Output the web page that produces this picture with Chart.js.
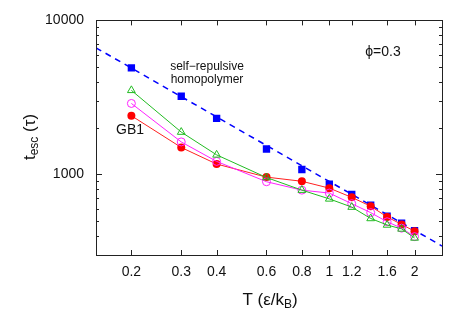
<!DOCTYPE html>
<html>
<head>
<meta charset="utf-8">
<script src="https://cdn.jsdelivr.net/npm/chart.js@4/dist/chart.umd.min.js"></script>
<style>
  body { margin: 0; background: #fff; }
  canvas { display: block; }
</style>
</head>
<body>
<canvas id="chart" width="471" height="330"></canvas>
<script>
// temperatures T (eps/kB)
const temps = [0.2, 0.3, 0.4, 0.6, 0.8, 1.0, 1.2, 1.4, 1.6, 1.8, 2.0];

// escape times t_esc (tau)
const homopolymer = [4920, 3220, 2310, 1463, 1076, 864, 742, 632, 535, 482, 432];
const gb1 = [2405, 1497, 1168, 961, 903, 815, 710, 622, 530, 474, 428];
const magentaSeries = [2890, 1626, 1215, 897, 791, 757, 646, 565, 493, 448, 395];
const greenSeries = [3516, 1884, 1340, 955, 791, 694, 614, 518, 470, 443, 387];

// power-law fit through the homopolymer points
const fitT = [0.15, 2.5];
const fitTesc = [6640, 343];

const xTicks = [0.2, 0.3, 0.4, 0.6, 0.8, 1, 1.2, 1.6, 2];
const xTickLabels = ['0.2', '0.3', '0.4', '0.6', '0.8', '1', '1.2', '1.6', '2'];
const yTicks = [1000, 10000];
const yTickLabels = ['1000', '10000'];
const yMinorTicks = [300, 400, 500, 600, 700, 800, 900, 2000, 3000, 4000, 5000, 6000, 7000, 8000, 9000];

const FONT = "'Liberation Sans', Arial, Helvetica, sans-serif";

function pts(xs, ys) {
  return xs.map((x, i) => ({ x: x, y: ys[i] }));
}

function drawRich(ctx, parts, size, subSize) {
  // parts: [text, isSub]
  let w = 0;
  parts.forEach(p => {
    ctx.font = (p[1] ? subSize : size) + 'px ' + FONT;
    w += ctx.measureText(p[0]).width;
  });
  let x = -w / 2;
  parts.forEach(p => {
    ctx.font = (p[1] ? subSize : size) + 'px ' + FONT;
    ctx.fillText(p[0], x, p[1] ? 5 : 0);
    x += ctx.measureText(p[0]).width;
  });
}

const framePlugin = {
  id: 'frame',
  afterDraw(chart) {
    const ctx = chart.ctx;
    const a = chart.chartArea;
    const xs = chart.scales.x, ys = chart.scales.y;
    ctx.save();
    ctx.strokeStyle = '#222';
    ctx.lineWidth = 1;
    ctx.strokeRect(Math.round(a.left) + 0.5, Math.round(a.top) + 0.5,
      Math.round(a.right - a.left), Math.round(a.bottom - a.top));

    ctx.beginPath();
    xTicks.forEach(v => {
      const px = Math.round(xs.getPixelForValue(v)) + 0.5;
      ctx.moveTo(px, a.bottom); ctx.lineTo(px, a.bottom - 5);
      ctx.moveTo(px, a.top); ctx.lineTo(px, a.top + 5);
    });
    yTicks.forEach(v => {
      const py = Math.round(ys.getPixelForValue(v)) + 0.5;
      ctx.moveTo(a.left, py); ctx.lineTo(a.left + 6, py);
      ctx.moveTo(a.right, py); ctx.lineTo(a.right - 6, py);
    });
    yMinorTicks.forEach(v => {
      const py = Math.round(ys.getPixelForValue(v)) + 0.5;
      ctx.moveTo(a.left, py); ctx.lineTo(a.left + 3, py);
      ctx.moveTo(a.right, py); ctx.lineTo(a.right - 3, py);
    });
    ctx.stroke();

    ctx.fillStyle = '#111';
    ctx.textBaseline = 'middle';

    // x title
    ctx.save();
    ctx.translate(270, 300);
    drawRich(ctx, [['T (ε/k', false], ['B', true], [')', false]], 17, 12);
    ctx.restore();

    // y title
    ctx.save();
    ctx.translate(30, 137);
    ctx.rotate(-Math.PI / 2);
    drawRich(ctx, [['t', false], ['esc', true], [' (τ)', false]], 17, 12);
    ctx.restore();

    // annotations
    ctx.textAlign = 'center';
    ctx.font = '12px ' + FONT;
    ctx.fillText('self\u2212repulsive', 207, 67);
    ctx.fillText('homopolymer', 207, 80);
    ctx.font = '14px ' + FONT;
    ctx.fillText('GB1', 130, 130);
    ctx.fillText('ϕ=0.3', 383, 52);
    ctx.restore();
  }
};

new Chart(document.getElementById('chart'), {
  type: 'scatter',
  data: {
    datasets: [
      {
        label: 'green',
        data: pts(temps, greenSeries),
        showLine: true,
        borderColor: '#22bb22',
        backgroundColor: 'rgba(0,0,0,0)',
        borderWidth: 1,
        pointStyle: 'triangle',
        pointRadius: 4.5,
        pointBorderWidth: 1,
        order: 0
      },
      {
        label: 'magenta',
        data: pts(temps, magentaSeries),
        showLine: true,
        borderColor: '#ff22ff',
        backgroundColor: 'rgba(0,0,0,0)',
        borderWidth: 1,
        pointStyle: 'circle',
        pointRadius: 4,
        pointBorderWidth: 1,
        order: 1
      },
      {
        label: 'GB1',
        data: pts(temps, gb1),
        showLine: true,
        borderColor: '#ff2020',
        backgroundColor: '#ff0000',
        borderWidth: 1,
        pointStyle: 'circle',
        pointRadius: 4,
        pointBorderWidth: 0,
        order: 2
      },
      {
        label: 'fit',
        data: pts(fitT, fitTesc),
        showLine: true,
        borderColor: '#0000ff',
        borderWidth: 1.5,
        borderDash: [6, 5],
        pointRadius: 0,
        order: 3
      },
      {
        label: 'self-repulsive homopolymer',
        data: pts(temps, homopolymer),
        showLine: false,
        backgroundColor: '#0000ff',
        borderColor: '#0000ff',
        pointStyle: 'rect',
        pointRadius: 5.2,
        pointBorderWidth: 0,
        order: 4
      }
    ]
  },
  options: {
    responsive: false,
    animation: false,
    events: [],
    layout: { padding: { top: 16, right: 29, left: 0, bottom: 0 } },
    plugins: { legend: { display: false }, tooltip: { enabled: false } },
    scales: {
      x: {
        type: 'logarithmic',
        min: 0.15,
        max: 2.5,
        grid: { display: false, drawTicks: false },
        border: { display: false },
        afterBuildTicks: s => { s.ticks = xTicks.map(v => ({ value: v })); },
        afterFit: s => { s.height = 75; },
        ticks: {
          autoSkip: false,
          maxRotation: 0,
          padding: 9,
          color: '#111',
          font: { family: FONT, size: 14 },
          callback: (v, i) => xTickLabels[i]
        }
      },
      y: {
        type: 'logarithmic',
        min: 300,
        max: 10000,
        grid: { display: false, drawTicks: false },
        border: { display: false },
        afterBuildTicks: s => { s.ticks = yTicks.map(v => ({ value: v })); },
        afterFit: s => { s.width = 96; },
        ticks: {
          autoSkip: false,
          padding: 12,
          color: '#111',
          font: { family: FONT, size: 14 },
          callback: (v, i) => yTickLabels[i]
        }
      }
    }
  },
  plugins: [framePlugin]
});
</script>
</body>
</html>
